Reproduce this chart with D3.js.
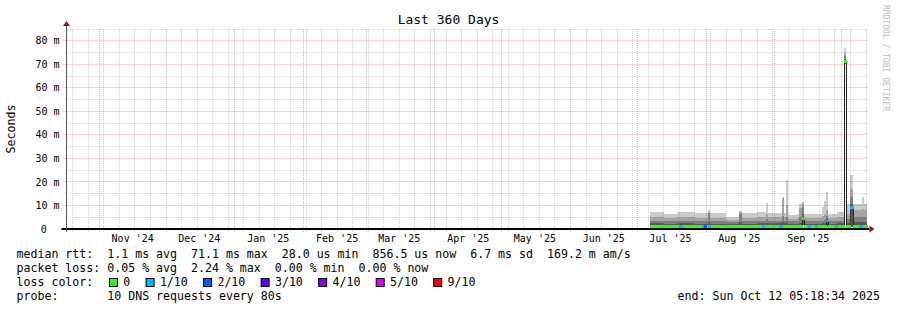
<!DOCTYPE html>
<html>
<head>
<meta charset="utf-8">
<script src="https://cdn.jsdelivr.net/npm/d3@7"></script>
<style>
  body { margin: 0; background: #fff; }
  svg { display: block; font-family: "DejaVu Sans Mono", monospace; }
  text { white-space: pre; }
</style>
</head>
<body>
<script>
// ---- data ----
var endTime = "2025-10-12T05:18:34Z";
var spanDays = 360;
var yMax = 85;

// each smoke block lasts from its start day up to the next start
var blockStart = ["2025-07-07","2025-07-13","2025-07-19","2025-07-27","2025-08-02","2025-08-03",
    "2025-08-10","2025-08-16","2025-08-17","2025-08-24","2025-08-28","2025-08-29","2025-09-04",
    "2025-09-05","2025-09-06","2025-09-07","2025-09-11","2025-09-12","2025-09-13","2025-09-14",
    "2025-09-22","2025-09-23","2025-09-24","2025-09-25","2025-09-29","2025-10-02","2025-10-03",
    "2025-10-05","2025-10-06","2025-10-10","2025-10-11"];
// slowest ping of 10 and the next ones (ms)
var ping10 = [7.1, 6.2, 7.1, 6.6, 8.0, 6.6, 5.2, 7.8, 6.9, 7.3, 11.0, 7.0, 13.5, 6.9, 20.8, 6.0,
    6.5, 10.5, 11.5, 6.2, 9.5, 12.0, 15.9, 6.4, 7.2, 77.0, 10.5, 23.0, 10.5, 13.7, 10.5];
var ping9 = [4.9, 4.5, 5.0, 4.7, 7.4, 4.7, 3.9, 7.3, 4.8, 5.0, 6.5, 4.9, 13.0, 4.9, 10.0, 4.4,
    4.6, 9.0, 11.0, 4.5, 5.5, 6.5, 8.0, 4.6, 5.0, 75.0, 6.5, 17.0, 8.0, 8.5, 8.0];
var ping8 = [3.5, 3.2, 3.6, 3.3, 6.6, 3.3, 2.9, 6.5, 3.4, 3.6, 4.2, 3.5, 5.5, 3.5, 5.0, 3.2,
    3.3, 5.0, 9.5, 3.2, 3.6, 4.0, 5.5, 3.3, 3.6, 73.6, 4.2, 13.5, 5.0, 5.2, 5.0];
var ping7 = [2.4, 2.2, 2.4, 2.3, 3.0, 2.3, 2.1, 3.0, 2.3, 2.4, 2.6, 2.4, 2.8, 2.4, 2.8, 2.2,
    2.3, 2.6, 6.5, 2.2, 2.4, 2.5, 4.2, 2.3, 2.4, 72.4, 2.6, 10.5, 2.8, 2.8, 2.8];
var median = [1.1, 1.1, 1.0, 1.1, 1.2, 1.1, 1.0, 1.1, 1.1, 1.1, 1.1, 1.1, 1.2, 1.1, 1.2, 1.0,
    1.1, 1.1, 4.6, 1.0, 1.1, 1.1, 3.4, 1.1, 1.1, 71.1, 1.1, 9.0, 1.1, 1.1, 1.1];
var pingLow = [0.4, 0.4, 0.4, 0.4, 0.4, 0.4, 0.4, 0.4, 0.4, 0.4, 0.4, 0.4, 0.4, 0.4, 0.4, 0.4,
    0.4, 0.4, 1.5, 0.4, 0.4, 0.4, 1.0, 0.4, 0.4, 70.0, 0.4, 1.0, 0.4, 0.4, 0.4];

// days where some packets were lost (index into lossColors)
var lossDay = ["2025-07-20","2025-07-30","2025-07-31","2025-08-02","2025-08-26","2025-09-03",
    "2025-09-16","2025-09-19","2025-09-24","2025-09-28","2025-10-05","2025-10-09"];
var lossLevel = [1, 1, 2, 1, 1, 1, 1, 1, 1, 1, 1, 1];

var lossLabels = ["0", "1/10", "2/10", "3/10", "4/10", "5/10", "9/10"];
var lossColors = ["#26ff00", "#00b8ff", "#0059ff", "#5e00ff", "#7e00ff", "#dd00ff", "#ff0000"];
var smokeColors = ["#cacaca", "#a4a4a4", "#7e7e7e", "#585858"];

var yTicks = [0, 10, 20, 30, 40, 50, 60, 70, 80];

var legendLines = [
    "median rtt:  1.1 ms avg  71.1 ms max  28.0 us min  856.5 us now  6.7 ms sd  169.2 m am/s",
    "packet loss: 0.05 % avg  2.24 % max  0.00 % min  0.00 % now",
    "loss color:",
    "probe:       10 DNS requests every 80s"
];
var endLabel = "end: Sun Oct 12 05:18:34 2025";

// ---- setup ----
var W = 897, H = 310;
var plotL = 66.5, plotR = 866.5, plotT = 29, plotB = 229;

var svg = d3.select("body").append("svg")
    .attr("width", W)
    .attr("height", H);

svg.append("rect").attr("width", W).attr("height", H).attr("fill", "#fff");

var end = new Date(endTime);
var start = d3.utcDay.offset(end, -spanDays);

var x = d3.scaleUtc().domain([start, end]).range([plotL, plotR]);
var y = d3.scaleLinear().domain([0, yMax]).range([plotB, plotT]);

// snap to whole pixels like rrdtool does
function px(d) { return Math.round(x(d)); }
function vx(d) { return Math.round(x(d) - 0.5) + 0.5; }
function hy(v) { return Math.round(y(v) - 0.5) + 0.5; }

var parse = d3.utcParse("%Y-%m-%d");
var blocks = blockStart.map(function(d, i) {
    return {
        t: parse(d),
        next: i < blockStart.length - 1 ? parse(blockStart[i + 1]) : end,
        tops: [ping10[i], ping9[i], ping8[i], ping7[i]],
        med: median[i],
        low: pingLow[i]
    };
});
// closing point for the step curves
var stepPts = blocks.concat([Object.assign({}, blocks[blocks.length - 1], { t: end })]);

// ---- smoke ----
var plot = svg.append("g");
smokeColors.forEach(function(c, k) {
    var area = d3.area()
        .curve(d3.curveStepAfter)
        .x(function(d) { return px(d.t); })
        .y0(function(d) { return y(d.low); })
        .y1(function(d) { return y(d.tops[k]); });
    plot.append("path")
        .datum(stepPts)
        .attr("d", area)
        .attr("fill", c)
        .attr("shape-rendering", "crispEdges");
});

// median as dark step line
plot.append("path")
    .datum(stepPts)
    .attr("d", d3.line().curve(d3.curveStepAfter)
        .x(function(d) { return px(d.t) + 0.5; })
        .y(function(d) { return hy(d.med); }))
    .attr("fill", "none")
    .attr("stroke", "#202020")
    .attr("stroke-width", 1);

// median band coloured by loss
var sw = 0.6;
plot.selectAll(".medband")
    .data(blocks)
    .enter()
    .append("rect")
    .attr("class", "medband")
    .attr("x", function(d) { return px(d.t); })
    .attr("width", function(d) { return px(d.next) - px(d.t) + 1; })
    .attr("y", function(d) { return y(d.med + sw); })
    .attr("height", function(d) { return y(d.med - sw) - y(d.med + sw); })
    .attr("fill", lossColors[0])
    .attr("shape-rendering", "crispEdges");

var bis = d3.bisector(function(d) { return d.t; }).right;
plot.selectAll(".lossband")
    .data(lossDay)
    .enter()
    .append("rect")
    .attr("class", "lossband")
    .each(function(d, i) {
        var t = parse(d);
        var b = blocks[Math.max(0, bis(blocks, t) - 1)];
        d3.select(this)
            .attr("x", px(t))
            .attr("width", px(d3.utcDay.offset(t, 1)) - px(t) + 1)
            .attr("y", y(b.med + sw))
            .attr("height", y(b.med - sw) - y(b.med + sw))
            .attr("fill", lossColors[lossLevel[i]])
            .attr("shape-rendering", "crispEdges");
    });

// ---- grid ----
var grid = svg.append("g").attr("fill", "none").attr("stroke-dasharray", "1,1");
var minorCol = "rgba(140,140,140,0.38)", majorCol = "rgba(255,30,30,0.4)";

var months = d3.utcMonth.range(start, end);
var monthPx = months.map(vx);

// weekly minor lines, skipped where a month line falls
d3.utcSunday.range(start, end).filter(function(d) {
    return monthPx.indexOf(vx(d)) < 0;
}).forEach(function(d) {
    grid.append("line")
        .attr("x1", vx(d)).attr("x2", vx(d))
        .attr("y1", plotT).attr("y2", plotB + 3)
        .attr("stroke", minorCol);
});
d3.range(5, yMax + 1, 5).filter(function(v) { return v % 10; }).forEach(function(v) {
    grid.append("line")
        .attr("x1", plotL).attr("x2", plotR + 1)
        .attr("y1", hy(v)).attr("y2", hy(v))
        .attr("stroke", minorCol);
});
months.forEach(function(d) {
    grid.append("line")
        .attr("x1", vx(d)).attr("x2", vx(d))
        .attr("y1", plotT).attr("y2", plotB + 3)
        .attr("stroke", majorCol);
});
yTicks.slice(1).forEach(function(v) {
    grid.append("line")
        .attr("x1", plotL - 4).attr("x2", plotR + 2)
        .attr("y1", hy(v)).attr("y2", hy(v))
        .attr("stroke", majorCol);
});

// ---- axes ----
// zero rule
svg.append("line")
    .attr("x1", plotL - 5).attr("x2", plotR + 3)
    .attr("y1", y(0)).attr("y2", y(0))
    .attr("stroke", "#000").attr("stroke-width", 2);
// y axis
svg.append("line")
    .attr("x1", plotL).attr("x2", plotL)
    .attr("y1", plotB + 3).attr("y2", plotT - 4)
    .attr("stroke", "#555").attr("stroke-width", 1);

var arrowCol = "#8b1a1a";
svg.append("path")
    .attr("d", "M" + (plotL - 3.5) + "," + (plotT - 3) + "L" + (plotL + 3.5) + "," + (plotT - 3) +
        "L" + plotL + "," + (plotT - 8) + "Z")
    .attr("fill", arrowCol);
svg.append("path")
    .attr("d", "M" + (plotR + 3) + "," + (y(0) - 3.5) + "L" + (plotR + 3) + "," + (y(0) + 3.5) +
        "L" + (plotR + 8) + "," + y(0) + "Z")
    .attr("fill", arrowCol);

// y tick labels
svg.append("g")
    .selectAll("text")
    .data(yTicks)
    .enter()
    .append("text")
    .attr("x", plotL - 7)
    .attr("y", function(d) { return y(d) + 3.6; })
    .attr("dx", function(d) { return d ? 0 : -12.6; })
    .attr("text-anchor", "end")
    .style("font-size", "10px")
    .text(function(d) { return d ? d + " m" : "0"; });

// x month labels, centred mid-month
var fmt = d3.utcFormat("%b '%y");
svg.append("g")
    .selectAll("text")
    .data(d3.utcMonth.range(d3.utcMonth.floor(start), end).filter(function(m) {
        var c = d3.utcDay.offset(m, 15);
        return c > start && c < end;
    }))
    .enter()
    .append("text")
    .attr("x", function(d) { return x(d3.utcDay.offset(d, 15)); })
    .attr("y", 242)
    .attr("text-anchor", "middle")
    .style("font-size", "10px")
    .text(fmt);

// ---- titles ----
svg.append("text")
    .attr("x", W / 2)
    .attr("y", 24)
    .attr("text-anchor", "middle")
    .style("font-size", "13px")
    .text("Last 360 Days");

svg.append("text")
    .attr("transform", "translate(15," + ((plotT + plotB) / 2) + ") rotate(-90)")
    .attr("text-anchor", "middle")
    .style("font-size", "11.6px")
    .text("Seconds");

svg.append("text")
    .attr("transform", "translate(883,5) rotate(90)")
    .attr("text-anchor", "start")
    .style("font-size", "8px")
    .attr("fill", "#bdbdbd")
    .text("RRDTOOL / TOBI OETIKER");

// ---- legend ----
var lg = svg.append("g").style("font-size", "11.6px");
legendLines.forEach(function(s, i) {
    lg.append("text")
        .attr("x", 16.5)
        .attr("y", 258 + i * 14)
        .text(s);
});

var cx = 109;
lossLabels.forEach(function(lab, i) {
    lg.append("rect")
        .attr("x", cx + 0.5).attr("y", 278.5)
        .attr("width", 8).attr("height", 8)
        .attr("fill", lossColors[i])
        .attr("stroke", "#000");
    var t = lg.append("text")
        .attr("x", cx + 14.3)
        .attr("y", 286)
        .text(lab);
    cx += 14.3 + t.node().getComputedTextLength() + 15.3;
});

lg.append("text")
    .attr("x", 880)
    .attr("y", 300)
    .attr("text-anchor", "end")
    .text(endLabel);
</script>
</body>
</html>
